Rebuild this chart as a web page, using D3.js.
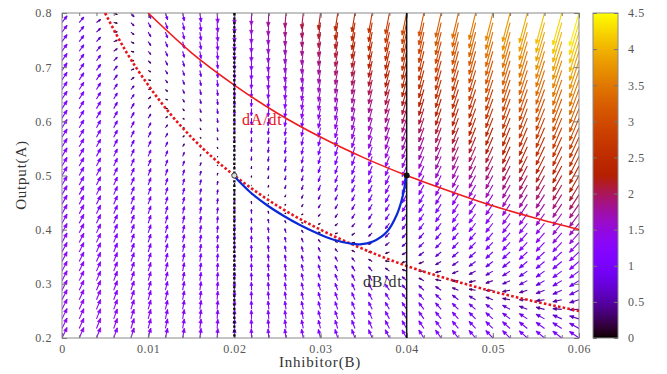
<!DOCTYPE html>
<html><head><meta charset="utf-8">
<script src="https://cdn.jsdelivr.net/npm/d3@7"></script>
<style>
body{margin:0;background:#fff}
text{font-family:"Liberation Serif","DejaVu Serif",serif}
</style>
</head><body>
<svg id="c" width="667" height="374"></svg>
<script>
// ---- grid of the vector field (Inhibitor B on x, Output A on y)
const bGrid = [0,0.002,0.004,0.006,0.008,0.01,0.012,0.014,0.016,0.018,0.02,0.022,0.024,0.026,0.028,0.03,0.032,0.034,0.036,0.038,0.04,0.042,0.044,0.046,0.048,0.05,0.052,0.054,0.056,0.058,0.06];
const aGrid = [0.2,0.2176,0.2353,0.2529,0.2706,0.2882,0.3059,0.3235,0.3412,0.3588,0.3765,0.3941,0.4118,0.4294,0.4471,0.4647,0.4824,0.5,0.5176,0.5353,0.5529,0.5706,0.5882,0.6059,0.6235,0.6412,0.6588,0.6765,0.6941,0.7118,0.7294,0.7471,0.7647,0.7824,0.8];
// field parameters estimated from the arrows:
// u = 1 - A - kAB*A*B (zero on the dotted curve)
// dA/dt = c1*tanh(u/w) + c2*u (separate constants above / below the curve) ; dB/dt = k4 - k5*B
const kAB = 50, w = 0.12;
const c1Up = 0.75, c2Up = 0.8;     // below the dotted curve (A rising)
const c1Down = 0.4, c2Down = 1.8;  // above the dotted curve (A falling)
const k4 = 0.042, k5 = 2.0;
const arrowScale = 0.014;
const colorBWeight = 6;

// ---- curves
const dAdtB = [0.01,0.015,0.02,0.025,0.03,0.035,0.04,0.045,0.05,0.055,0.06];
const dAdtA = [0.8,0.727,0.667,0.615,0.571,0.533,0.5,0.471,0.444,0.421,0.4];
const dBdtB = [0.005,0.0075,0.01,0.0125,0.015,0.0175,0.02,0.025,0.03,0.035,0.04,0.045,0.05,0.055,0.06];
const dBdtA = [0.8,0.727,0.667,0.615,0.571,0.533,0.5,0.444,0.4,0.364,0.333,0.308,0.286,0.267,0.25];
const trajB = [0.01996,0.02182,0.02376,0.02565,0.02762,0.02956,0.03145,0.03342,0.03458,0.03609,0.03768,0.03884,0.03957,0.03992];
const trajA = [0.499,0.4695,0.4455,0.4262,0.4086,0.3938,0.3818,0.3745,0.373,0.3782,0.3957,0.4271,0.464,0.499];
const steadyB = [0.02,0.04];
const steadyA = [0.5,0.5];
const vlines = [0.02,0.04];

// ---- ticks
const xTicks = [0,0.01,0.02,0.03,0.04,0.05,0.06];
const xTickLabels = ["0","0.01","0.02","0.03","0.04","0.05","0.06"];
const xMinor = [0,0.002,0.004,0.006,0.008,0.01,0.012,0.014,0.016,0.018,0.02,0.022,0.024,0.026,0.028,0.03,0.032,0.034,0.036,0.038,0.04,0.042,0.044,0.046,0.048,0.05,0.052,0.054,0.056,0.058,0.06];
const yTicks = [0.2,0.3,0.4,0.5,0.6,0.7,0.8];
const yTickLabels = ["0.2","0.3","0.4","0.5","0.6","0.7","0.8"];
const cbTicks = [0,0.5,1,1.5,2,2.5,3,3.5,4,4.5];
const cbTickLabels = ["0","0.5","1","1.5","2","2.5","3","3.5","4","4.5"];

const svg = d3.select("#c");
const L = 62, R = 579, T = 13, B = 338;
const x = d3.scaleLinear([0,0.06],[L,R]);
const y = d3.scaleLinear([0.2,0.8],[B,T]);
const cb = d3.scaleLinear([0,4.5],[B,T]);

function pal(v){
  const t = Math.max(0,Math.min(1,v/4.5));
  const r = Math.sqrt(t), g = t*t*t, b = Math.max(0,Math.sin(2*Math.PI*t));
  return d3.rgb(Math.round(r*255),Math.round(g*255),Math.round(b*255)).toString();
}

svg.append("defs").append("clipPath").attr("id","pc")
  .append("rect").attr("x",L).attr("y",T).attr("width",R-L).attr("height",B-T);

// ---- vector field
const field = [];
aGrid.forEach(a=>bGrid.forEach(b=>{
  const u = 1 - a - kAB*a*b;
  const dA = u >= 0 ? c1Up*Math.tanh(u/w) + c2Up*u : c1Down*Math.tanh(u/w) + c2Down*u;
  const dB = k4 - k5*b;
  field.push({b,a,dA,dB,m:Math.sqrt(dA*dA+(colorBWeight*dB)*(colorBWeight*dB))});
}));
const gF = svg.append("g").attr("clip-path","url(#pc)");
const geo = d=>{
  const x0=x(d.b), y0=y(d.a);
  const x1=x(d.b+arrowScale*d.dB), y1=y(d.a+arrowScale*d.dA);
  const vx=x1-x0, vy=y1-y0, len=Math.hypot(vx,vy);
  return {x0,y0,x1,y1,len,ang:Math.atan2(vy,vx)};
};
gF.selectAll("path.s").data(field).join("path").attr("class","s")
  .attr("d",d=>{const g=geo(d);return `M${g.x0},${g.y0}L${g.x1},${g.y1}`;})
  .attr("fill","none").attr("stroke",d=>pal(d.m)).attr("stroke-width",1.1);
gF.selectAll("path.h").data(field).join("path").attr("class","h")
  .attr("d",d=>{
    const g=geo(d);
    if(g.len<0.5) return "";
    const h=Math.min(4.5,g.len*0.45), sp=0.42;
    const hx1=g.x1-h*Math.cos(g.ang-sp), hy1=g.y1-h*Math.sin(g.ang-sp);
    const hx2=g.x1-h*Math.cos(g.ang+sp), hy2=g.y1-h*Math.sin(g.ang+sp);
    return `M${hx1},${hy1}L${g.x1},${g.y1}L${hx2},${hy2}Z`;
  })
  .attr("fill",d=>pal(d.m)).attr("stroke",d=>pal(d.m)).attr("stroke-width",0.6);

// ---- frame
svg.append("rect").attr("x",L).attr("y",T).attr("width",R-L).attr("height",B-T)
  .attr("fill","none").attr("stroke","#8a8a8a").attr("stroke-width",1);

// ---- axes
function styleAxis(g){
  g.select(".domain").remove();
  g.selectAll("line").attr("stroke","#777");
  g.selectAll("text").attr("fill","#555").style("font-size","12px").style("letter-spacing","0.6px")
    .style("font-family","'Liberation Serif',serif");
}
svg.append("g").attr("transform",`translate(0,${B})`)
  .call(d3.axisBottom(x).tickValues(xMinor).tickSizeInner(-3).tickSizeOuter(0).tickFormat(""))
  .call(styleAxis);
svg.append("g").attr("transform",`translate(0,${T})`)
  .call(d3.axisTop(x).tickValues(xMinor).tickSizeInner(-3).tickSizeOuter(0).tickFormat(""))
  .call(styleAxis);
svg.append("g").attr("transform",`translate(0,${B})`)
  .call(d3.axisBottom(x).tickValues(xTicks).tickSizeInner(-5).tickSizeOuter(0).tickPadding(6).tickFormat((d,i)=>xTickLabels[i]))
  .call(styleAxis);
svg.append("g").attr("transform",`translate(0,${T})`)
  .call(d3.axisTop(x).tickValues(xTicks).tickSizeInner(-5).tickSizeOuter(0).tickFormat(""))
  .call(styleAxis);
svg.append("g").attr("transform",`translate(${L},0)`)
  .call(d3.axisLeft(y).tickValues(yTicks).tickSizeInner(-5).tickSizeOuter(0).tickPadding(10).tickFormat((d,i)=>yTickLabels[i]))
  .call(styleAxis);
svg.append("g").attr("transform",`translate(${R},0)`)
  .call(d3.axisRight(y).tickValues(yTicks).tickSizeInner(-5).tickSizeOuter(0).tickFormat(""))
  .call(styleAxis);

// ---- nullclines
const line = d3.line().x(d=>x(d[0])).y(d=>y(d[1])).curve(d3.curveMonotoneX);
const gC = svg.append("g").attr("clip-path","url(#pc)");
gC.append("path").attr("d",line(dBdtB.map((b,i)=>[b,dBdtA[i]])))
  .attr("fill","none").attr("stroke","#e8141c").attr("stroke-width",2.6).attr("stroke-dasharray","2.6,2.2");
gC.append("path").attr("d",line(dAdtB.map((b,i)=>[b,dAdtA[i]])))
  .attr("fill","none").attr("stroke","#ee1c1c").attr("stroke-width",1.6);

// ---- vertical lines
gC.append("line").attr("x1",x(vlines[0])).attr("x2",x(vlines[0])).attr("y1",T).attr("y2",B)
  .attr("stroke","#111").attr("stroke-width",2.4).attr("stroke-dasharray","2.4,2");
gC.append("line").attr("x1",x(vlines[1])).attr("x2",x(vlines[1])).attr("y1",T).attr("y2",B)
  .attr("stroke","#111").attr("stroke-width",1.5);

// ---- trajectory
const tl = d3.line().x(d=>x(d[0])).y(d=>y(d[1])).curve(d3.curveCatmullRom);
gC.append("path").attr("d",tl(trajB.map((b,i)=>[b,trajA[i]])))
  .attr("fill","none").attr("stroke","#0a28d8").attr("stroke-width",2.2);

// ---- steady states
svg.append("circle").attr("cx",x(steadyB[0])).attr("cy",y(steadyA[0])).attr("r",2.6)
  .attr("fill","#ddd").attr("stroke","#444").attr("stroke-width",1);
svg.append("circle").attr("cx",x(steadyB[1])).attr("cy",y(steadyA[1])).attr("r",3)
  .attr("fill","#111");

// ---- labels
svg.append("text").attr("x",242).attr("y",125).attr("fill","#e8141c").style("font-size","16px").style("letter-spacing","0.8px").text("dA/dt");
svg.append("text").attr("x",363).attr("y",287).attr("fill","#333").style("font-size","16px").style("letter-spacing","0.8px").text("dB/dt");
svg.append("text").attr("x",320).attr("y",367).attr("text-anchor","middle").attr("fill","#333").style("font-size","15px").style("letter-spacing","0.8px").text("Inhibitor(B)");
svg.append("text").attr("transform","translate(26,175) rotate(-90)").attr("text-anchor","middle").attr("fill","#333").style("font-size","15px").style("letter-spacing","0.8px").text("Output(A)");

// ---- colorbar
const CX0 = 593, CX1 = 618;
const grad = svg.select("defs").append("linearGradient").attr("id","cbg")
  .attr("x1",0).attr("y1",1).attr("x2",0).attr("y2",0);
d3.range(0,101).forEach(i=>grad.append("stop").attr("offset",i/100).attr("stop-color",pal(4.5*i/100)));
svg.append("rect").attr("x",CX0).attr("y",T).attr("width",CX1-CX0).attr("height",B-T)
  .attr("fill","url(#cbg)").attr("stroke","#8a8a8a").attr("stroke-width",1);
svg.append("g").attr("transform",`translate(${CX1},0)`)
  .call(d3.axisRight(cb).tickValues(cbTicks).tickSizeInner(-4).tickSizeOuter(0).tickPadding(10).tickFormat((d,i)=>cbTickLabels[i]))
  .call(styleAxis);
svg.append("g").attr("transform",`translate(${CX0},0)`)
  .call(d3.axisLeft(cb).tickValues(cbTicks).tickSizeInner(-4).tickSizeOuter(0).tickFormat(""))
  .call(styleAxis);
</script>
</body></html>
